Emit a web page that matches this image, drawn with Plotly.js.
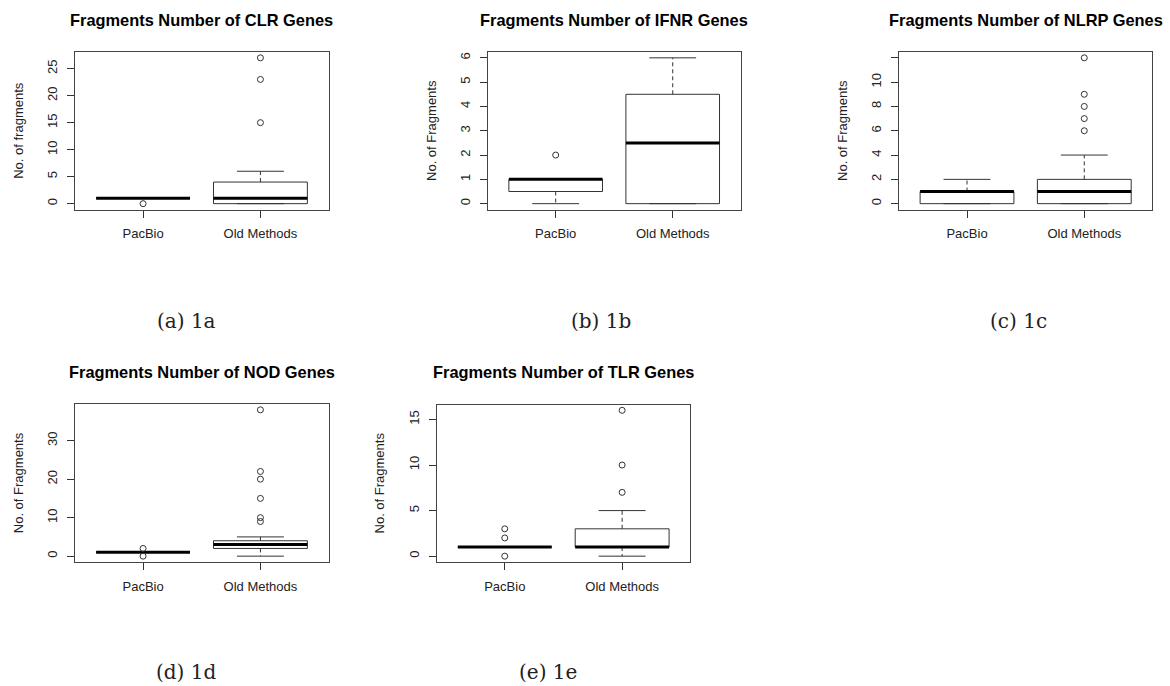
<!DOCTYPE html>
<html>
<head>
<meta charset="utf-8">
<script src="https://cdn.plot.ly/plotly-3.0.1.min.js"></script>
<style>
  html, body { margin: 0; padding: 0; background: #ffffff; }
  #chart { width: 1170px; height: 686px; }
</style>
</head>
<body>
<div id="chart"></div>
<script>
// ---------- data ----------
const groups = ['PacBio', 'Old Methods'];

// CLR genes: [PacBio, Old Methods]
const clrQ1 = [1, 0];
const clrMedian = [1, 1];
const clrQ3 = [1, 4];
const clrLowWhisker = [1, 0];
const clrHighWhisker = [1, 6];
const clrOutPacBio = [0];
const clrOutOld = [15, 23, 27];
const clrTicks = [0, 5, 10, 15, 20, 25];
const clrTickText = ['0', '5', '10', '15', '20', '25'];

// IFNR genes
const ifnrQ1 = [0.5, 0];
const ifnrMedian = [1, 2.5];
const ifnrQ3 = [1, 4.5];
const ifnrLowWhisker = [0, 0];
const ifnrHighWhisker = [1, 6];
const ifnrOutPacBio = [2];
const ifnrOutOld = [];
const ifnrTicks = [0, 1, 2, 3, 4, 5, 6];
const ifnrTickText = ['0', '1', '2', '3', '4', '5', '6'];

// NLRP genes
const nlrpQ1 = [0, 0];
const nlrpMedian = [1, 1];
const nlrpQ3 = [1, 2];
const nlrpLowWhisker = [0, 0];
const nlrpHighWhisker = [2, 4];
const nlrpOutPacBio = [];
const nlrpOutOld = [6, 7, 8, 9, 12];
const nlrpTicks = [0, 2, 4, 6, 8, 10, 12];
const nlrpTickText = ['0', '2', '4', '6', '8', '10', ''];

// NOD genes
const nodQ1 = [1, 2];
const nodMedian = [1, 3];
const nodQ3 = [1, 4];
const nodLowWhisker = [1, 0];
const nodHighWhisker = [1, 5];
const nodOutPacBio = [0, 2];
const nodOutOld = [9, 10, 15, 20, 22, 38];
const nodTicks = [0, 10, 20, 30];
const nodTickText = ['0', '10', '20', '30'];

// TLR genes
const tlrQ1 = [1, 1];
const tlrMedian = [1, 1];
const tlrQ3 = [1, 3];
const tlrLowWhisker = [1, 0];
const tlrHighWhisker = [1, 5];
const tlrOutPacBio = [0, 2, 3];
const tlrOutOld = [7, 10, 16];
const tlrTicks = [0, 5, 10, 15];
const tlrTickText = ['0', '5', '10', '15'];

const titles = [
  'Fragments Number of CLR Genes',
  'Fragments Number of IFNR Genes',
  'Fragments Number of NLRP Genes',
  'Fragments Number of NOD Genes',
  'Fragments Number of TLR Genes'
];
const yTitles = ['No. of fragments', 'No. of Fragments', 'No. of Fragments', 'No. of Fragments', 'No. of Fragments'];
const captions = ['(a) 1a', '(b) 1b', '(c) 1c', '(d) 1d', '(e) 1e'];

// ---------- layout geometry (pixels) ----------
const W = 1170, H = 686;
const panelBoxes = [            // [left, right, top, bottom]
  [75, 328.5, 52, 209.5],
  [487.8, 740.6, 52, 209.5],
  [899, 1152.3, 52, 209.5],
  [75, 328.5, 404, 562],
  [436.7, 690.2, 404.5, 562]
];
const titleY = [20, 20, 20, 371.5, 371.5];
const captionPos = [[186, 321], [601, 321], [1018, 321], [186, 671.5], [548, 671.5]];

const panels = [
  {q1: clrQ1, med: clrMedian, q3: clrQ3, lo: clrLowWhisker, hi: clrHighWhisker, outs: [clrOutPacBio, clrOutOld], ticks: clrTicks, tickText: clrTickText},
  {q1: ifnrQ1, med: ifnrMedian, q3: ifnrQ3, lo: ifnrLowWhisker, hi: ifnrHighWhisker, outs: [ifnrOutPacBio, ifnrOutOld], ticks: ifnrTicks, tickText: ifnrTickText},
  {q1: nlrpQ1, med: nlrpMedian, q3: nlrpQ3, lo: nlrpLowWhisker, hi: nlrpHighWhisker, outs: [nlrpOutPacBio, nlrpOutOld], ticks: nlrpTicks, tickText: nlrpTickText},
  {q1: nodQ1, med: nodMedian, q3: nodQ3, lo: nodLowWhisker, hi: nodHighWhisker, outs: [nodOutPacBio, nodOutOld], ticks: nodTicks, tickText: nodTickText},
  {q1: tlrQ1, med: tlrMedian, q3: tlrQ3, lo: tlrLowWhisker, hi: tlrHighWhisker, outs: [tlrOutPacBio, tlrOutOld], ticks: tlrTicks, tickText: tlrTickText}
];

const LINE = '#333333';
const TEXT = '#222222';
const SANS = '"Liberation Sans", Arial, Helvetica, sans-serif';
const HALF = 0.4;      // half box width
const STAPLE = 0.2;    // half staple width

const traces = [];
const layout = {
  width: W, height: H,
  margin: {l: 0, r: 0, t: 0, b: 0},
  paper_bgcolor: '#ffffff',
  plot_bgcolor: '#ffffff',
  showlegend: false,
  annotations: []
};

panels.forEach((p, k) => {
  const xa = 'x' + (k === 0 ? '' : k + 1);
  const ya = 'y' + (k === 0 ? '' : k + 1);
  const boxX = [], boxY = [], medX = [], medY = [], whX = [], whY = [], stX = [], stY = [], oX = [], oY = [];
  groups.forEach((g, i) => {
    const c = i + 1;
    boxX.push(c - HALF, c + HALF, c + HALF, c - HALF, c - HALF, null);
    boxY.push(p.q1[i], p.q1[i], p.q3[i], p.q3[i], p.q1[i], null);
    medX.push(c - HALF, c + HALF, null);
    medY.push(p.med[i], p.med[i], null);
    if (p.hi[i] > p.q3[i]) { whX.push(c, c, null); whY.push(p.q3[i], p.hi[i], null); }
    if (p.lo[i] < p.q1[i]) { whX.push(c, c, null); whY.push(p.q1[i], p.lo[i], null); }
    stX.push(c - STAPLE, c + STAPLE, null, c - STAPLE, c + STAPLE, null);
    stY.push(p.hi[i], p.hi[i], null, p.lo[i], p.lo[i], null);
    p.outs[i].forEach(v => { oX.push(c); oY.push(v); });
  });
  const common = {xaxis: xa, yaxis: ya, hoverinfo: 'skip', showlegend: false, type: 'scatter'};
  traces.push(Object.assign({x: whX, y: whY, mode: 'lines', line: {color: LINE, width: 1, dash: '4px,3px'}}, common));
  traces.push(Object.assign({x: stX, y: stY, mode: 'lines', line: {color: LINE, width: 1}}, common));
  traces.push(Object.assign({x: boxX, y: boxY, mode: 'lines', line: {color: LINE, width: 1}}, common));
  traces.push(Object.assign({x: medX, y: medY, mode: 'lines', line: {color: '#000000', width: 3}}, common));
  traces.push(Object.assign({x: oX, y: oY, mode: 'markers',
    marker: {symbol: 'circle-open', size: 6, color: LINE, line: {width: 1, color: LINE}}}, common));

  // y range: data range extended by 4% (as in R)
  const all = [].concat(p.lo, p.hi, p.q1, p.q3, p.outs[0], p.outs[1]);
  const mn = Math.min.apply(null, all), mx = Math.max.apply(null, all);
  const ext = (mx - mn) * 0.04;

  const b = panelBoxes[k];
  const axisCommon = {
    showgrid: false, zeroline: false, showline: true, mirror: true,
    linecolor: '#444444', linewidth: 1,
    ticks: 'outside', ticklen: 7, tickcolor: LINE, tickwidth: 1,
    tickfont: {family: SANS, size: 13, color: TEXT},
    fixedrange: true
  };
  layout['xaxis' + (k === 0 ? '' : k + 1)] = Object.assign({}, axisCommon, {
    domain: [b[0] / W, b[1] / W],
    anchor: ya,
    range: [0.42, 2.58],
    tickmode: 'array', tickvals: [1, 2], ticktext: groups,
    ticklabelstandoff: 5
  });
  layout['yaxis' + (k === 0 ? '' : k + 1)] = Object.assign({}, axisCommon, {
    domain: [1 - b[3] / H, 1 - b[2] / H],
    anchor: xa,
    range: [mn - ext, mx + ext],
    tickmode: 'array', tickvals: p.ticks, ticktext: p.tickText,
    tickangle: -90,
    ticklabelstandoff: 5,
    title: {text: yTitles[k], font: {family: SANS, size: 13, color: TEXT}, standoff: 18}
  });

  layout.annotations.push({
    text: '<b>' + titles[k] + '</b>',
    xref: 'paper', yref: 'paper',
    x: (b[0] + b[1]) / 2 / W, y: 1 - titleY[k] / H,
    xanchor: 'center', yanchor: 'middle', showarrow: false,
    font: {family: SANS, size: 16.4, color: '#000000'}
  });
  layout.annotations.push({
    text: captions[k],
    xref: 'paper', yref: 'paper',
    x: captionPos[k][0] / W, y: 1 - captionPos[k][1] / H,
    xanchor: 'center', yanchor: 'middle', showarrow: false,
    font: {family: '"DejaVu Serif", "Liberation Serif", serif', size: 20, color: TEXT}
  });
});

Plotly.newPlot('chart', traces, layout, {displayModeBar: false, staticPlot: true});
</script>
</body>
</html>
